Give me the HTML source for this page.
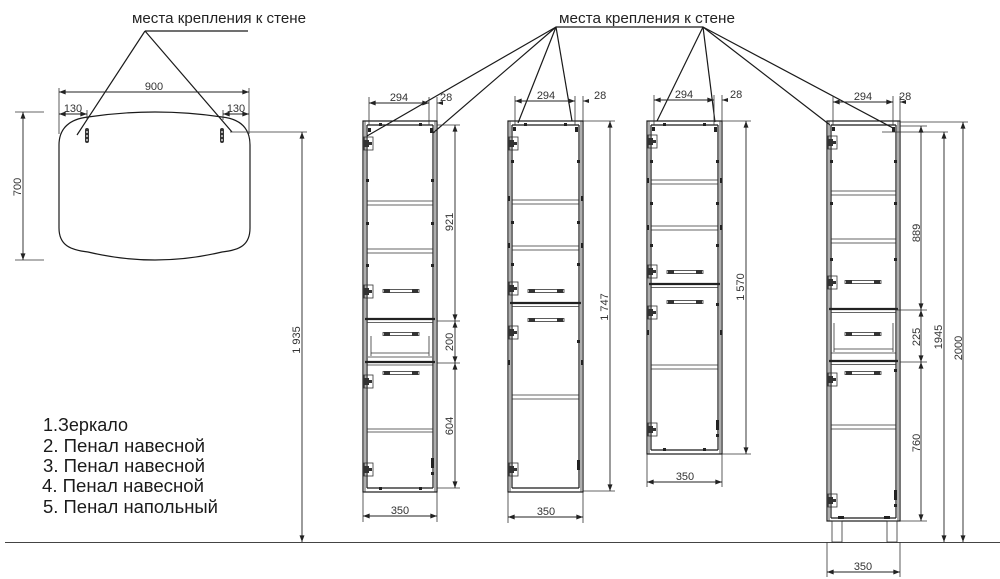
<!DOCTYPE html>
<html><head><meta charset="utf-8"><style>
html,body{margin:0;padding:0;background:#fff;}
svg{display:block;}
text{font-family:"Liberation Sans",Arial,sans-serif;fill:#222;}
.d{font-size:11px;fill:#333;}
.lg{font-size:18px;fill:#1a1a1a;}
.l{stroke:#1a1a1a;stroke-width:1.2;fill:none;}
.t{stroke:#333;stroke-width:0.8;fill:none;}
.k{stroke:#222;stroke-width:2.2;fill:none;}
.dm{stroke:#222;stroke-width:0.9;fill:none;marker-start:url(#a);marker-end:url(#a);}
.p{fill:#222;}
</style></head><body>
<svg width="1000" height="579" viewBox="0 0 1000 579" xmlns="http://www.w3.org/2000/svg">
<defs>
<marker id="a" viewBox="0 0 8 6" refX="8" refY="3" markerWidth="7" markerHeight="5" markerUnits="userSpaceOnUse" orient="auto-start-reverse"><path d="M0,0 L8,3 L0,6 z" fill="#222"/></marker>
<g id="hl"><rect x="0" y="-1.5" width="36" height="3" fill="none" stroke="#333" stroke-width="0.8"/><rect x="1" y="-2" width="6" height="4" fill="#333"/><rect x="29" y="-2" width="6" height="4" fill="#333"/></g>
<g id="hg"><rect x="0" y="0" width="9" height="13" fill="none" stroke="#333" stroke-width="0.8"/><rect x="0" y="3" width="5" height="7" fill="#333"/><rect x="5" y="5" width="3" height="3" fill="#333"/></g>
</defs>

<!-- ground -->
<line x1="5" y1="542.5" x2="1000" y2="542.5" stroke="#444" stroke-width="1"/>

<!-- ============ MIRROR ============ -->
<text x="132" y="23" style="font-size:15px" textLength="174" lengthAdjust="spacingAndGlyphs">места крепления к стене</text>
<line class="l" x1="145" y1="31" x2="248" y2="31"/>
<line class="l" x1="145" y1="31" x2="77" y2="135"/>
<line class="l" x1="145" y1="31" x2="232" y2="132"/>
<path class="l" d="M 88,117 Q 155,107 222,117 C 240,119 250,128 250,145 L 250,228 C 250,245 240,250 222,252 Q 155,268 88,252 C 70,250 59,245 59,228 L 59,145 C 59,128 70,119 88,117 Z"/>
<rect x="85" y="128" width="4" height="15" rx="2" fill="#333"/>
<rect x="220" y="128" width="4" height="15" rx="2" fill="#333"/>
<circle cx="87" cy="132" r="0.9" fill="#fff"/><circle cx="87" cy="136" r="0.9" fill="#fff"/><circle cx="87" cy="140" r="0.9" fill="#fff"/>
<circle cx="222" cy="132" r="0.9" fill="#fff"/><circle cx="222" cy="136" r="0.9" fill="#fff"/><circle cx="222" cy="140" r="0.9" fill="#fff"/>
<!-- 900 -->
<line class="t" x1="59" y1="88" x2="59" y2="134"/>
<line class="t" x1="249" y1="88" x2="249" y2="134"/>
<line class="dm" x1="59" y1="92" x2="249" y2="92"/>
<text class="d" x="154" y="90" text-anchor="middle">900</text>
<line class="t" x1="87" y1="110" x2="87" y2="120"/>
<line class="t" x1="223" y1="110" x2="223" y2="120"/>
<line class="dm" x1="59" y1="114" x2="87" y2="114"/>
<text class="d" x="73" y="112" text-anchor="middle">130</text>
<line class="dm" x1="223" y1="114" x2="249" y2="114"/>
<text class="d" x="236" y="112" text-anchor="middle">130</text>
<!-- 700 -->
<line class="t" x1="15" y1="112" x2="44" y2="112"/>
<line class="t" x1="15" y1="260" x2="44" y2="260"/>
<line class="dm" x1="23" y1="112" x2="23" y2="260"/>
<text class="d" transform="translate(21,187) rotate(-90)" text-anchor="middle">700</text>
<!-- 1935 -->
<line class="t" x1="230" y1="132" x2="307" y2="132"/>
<line class="dm" x1="302" y1="132" x2="302" y2="542"/>
<text class="d" transform="translate(300,340) rotate(-90)" text-anchor="middle">1 935</text>

<!-- legend -->
<text class="lg" x="43" y="431" textLength="85" lengthAdjust="spacingAndGlyphs">1.Зеркало</text>
<text class="lg" x="43" y="452" textLength="162" lengthAdjust="spacingAndGlyphs">2. Пенал навесной</text>
<text class="lg" x="43" y="472" textLength="162" lengthAdjust="spacingAndGlyphs">3. Пенал навесной</text>
<text class="lg" x="42" y="492" textLength="162" lengthAdjust="spacingAndGlyphs">4. Пенал навесной</text>
<text class="lg" x="43" y="513" textLength="175" lengthAdjust="spacingAndGlyphs">5. Пенал напольный</text>

<!-- ============ top-right label & leaders ============ -->
<text x="559" y="23" style="font-size:15px" textLength="176" lengthAdjust="spacingAndGlyphs">места крепления к стене</text>
<line class="l" x1="556" y1="27" x2="703" y2="27"/>
<line class="l" x1="556" y1="27" x2="367" y2="136"/>
<line class="l" x1="556" y1="27" x2="433" y2="133"/>
<line class="l" x1="556" y1="27" x2="518" y2="123"/>
<line class="l" x1="556" y1="27" x2="572" y2="121"/>
<line class="l" x1="703" y1="27" x2="657" y2="121"/>
<line class="l" x1="703" y1="27" x2="715" y2="122"/>
<line class="l" x1="703" y1="27" x2="830" y2="125"/>
<line class="l" x1="703" y1="27" x2="893" y2="128"/>

<!-- ============ CABINET 1 ============ -->
<g>
<rect class="l" x="363" y="121" width="74" height="371"/>
<line class="t" x1="365" y1="121" x2="365" y2="492"/>
<line class="t" x1="435" y1="121" x2="435" y2="492"/>
<line class="l" x1="367" y1="125" x2="367" y2="488"/>
<line class="l" x1="433" y1="125" x2="433" y2="488"/>
<line class="l" x1="367" y1="125" x2="433" y2="125"/>
<line class="l" x1="367" y1="488" x2="433" y2="488"/>
<rect class="p" x="379" y="123" width="3" height="3"/><rect class="p" x="419" y="123" width="3" height="3"/>
<rect class="p" x="379" y="487" width="3" height="3"/><rect class="p" x="419" y="487" width="3" height="3"/>
<line class="t" x1="367" y1="201" x2="433" y2="201"/><line class="t" x1="367" y1="205" x2="433" y2="205"/>
<line class="t" x1="367" y1="249" x2="433" y2="249"/><line class="t" x1="367" y1="253" x2="433" y2="253"/>
<line class="k" x1="365" y1="319" x2="435" y2="319"/><line class="t" x1="367" y1="322.5" x2="433" y2="322.5"/>
<line class="t" x1="371" y1="336" x2="371" y2="356"/><line class="t" x1="429" y1="336" x2="429" y2="356"/>
<line class="t" x1="371" y1="353" x2="429" y2="353"/><line class="t" x1="368" y1="357" x2="432" y2="357"/>
<line class="k" x1="365" y1="362" x2="435" y2="362"/><line class="t" x1="367" y1="365" x2="433" y2="365"/>
<line class="t" x1="367" y1="429" x2="433" y2="429"/><line class="t" x1="367" y1="432" x2="433" y2="432"/>
<rect class="p" x="366" y="179" width="3" height="3"/><rect class="p" x="431" y="179" width="3" height="3"/>
<rect class="p" x="366" y="222" width="3" height="3"/><rect class="p" x="431" y="222" width="3" height="3"/>
<rect class="p" x="366" y="264" width="3" height="3"/><rect class="p" x="431" y="264" width="3" height="3"/>
<rect class="p" x="431" y="458" width="3" height="10"/><rect class="p" x="431" y="472" width="3" height="3"/>
<use href="#hg" x="364" y="137"/><use href="#hg" x="364" y="285"/><use href="#hg" x="364" y="375"/><use href="#hg" x="364" y="463"/>
<use href="#hl" x="383" y="291"/><use href="#hl" x="383" y="334"/><use href="#hl" x="383" y="373"/>
<rect class="p" x="368" y="128" width="3" height="4"/><rect class="p" x="430" y="128" width="3" height="5"/>
<!-- dims -->
<line class="t" x1="369" y1="97" x2="369" y2="125"/>
<line class="t" x1="429" y1="97" x2="429" y2="125"/>
<line class="t" x1="437" y1="97" x2="437" y2="121"/>
<line class="dm" x1="369" y1="103" x2="429" y2="103"/>
<line class="t" x1="437" y1="103" x2="443" y2="103"/>
<path d="M437,103 L443,101 L443,105 z" fill="#222"/>
<text class="d" x="399" y="101" text-anchor="middle">294</text>
<text class="d" x="440" y="101">28</text>
<line class="t" x1="437" y1="125" x2="460" y2="125"/>
<line class="t" x1="437" y1="321" x2="460" y2="321"/>
<line class="t" x1="437" y1="363" x2="460" y2="363"/>
<line class="t" x1="437" y1="488" x2="460" y2="488"/>
<line class="dm" x1="455" y1="125" x2="455" y2="321"/>
<line class="dm" x1="455" y1="321" x2="455" y2="363"/>
<line class="dm" x1="455" y1="363" x2="455" y2="488"/>
<text class="d" transform="translate(453,222) rotate(-90)" text-anchor="middle">921</text>
<text class="d" transform="translate(453,342) rotate(-90)" text-anchor="middle">200</text>
<text class="d" transform="translate(453,426) rotate(-90)" text-anchor="middle">604</text>
<line class="t" x1="363" y1="492" x2="363" y2="522"/>
<line class="t" x1="437" y1="492" x2="437" y2="522"/>
<line class="dm" x1="363" y1="516" x2="437" y2="516"/>
<text class="d" x="400" y="514" text-anchor="middle">350</text>
</g>

<!-- ============ CABINET 2 ============ -->
<g>
<rect class="l" x="508" y="121" width="75" height="371"/>
<line class="t" x1="510" y1="121" x2="510" y2="492"/>
<line class="t" x1="581" y1="121" x2="581" y2="492"/>
<line class="l" x1="512" y1="125" x2="512" y2="488"/>
<line class="l" x1="579" y1="125" x2="579" y2="488"/>
<line class="l" x1="512" y1="125" x2="579" y2="125"/>
<line class="l" x1="512" y1="488" x2="579" y2="488"/>
<rect class="p" x="524" y="123" width="3" height="3"/><rect class="p" x="564" y="123" width="3" height="3"/>
<line class="t" x1="512" y1="200" x2="579" y2="200"/><line class="t" x1="512" y1="204" x2="579" y2="204"/>
<line class="t" x1="512" y1="246" x2="579" y2="246"/><line class="t" x1="512" y1="250" x2="579" y2="250"/>
<line class="k" x1="510" y1="303" x2="581" y2="303"/><line class="t" x1="512" y1="306.5" x2="579" y2="306.5"/>
<line class="t" x1="512" y1="395" x2="579" y2="395"/><line class="t" x1="512" y1="399" x2="579" y2="399"/>
<rect class="p" x="511" y="160" width="3" height="3"/><rect class="p" x="577" y="160" width="3" height="3"/>
<rect class="p" x="511" y="221" width="3" height="3"/><rect class="p" x="577" y="221" width="3" height="3"/>
<rect class="p" x="511" y="263" width="3" height="3"/><rect class="p" x="577" y="263" width="3" height="3"/>
<rect class="p" x="577" y="340" width="3" height="3"/>
<rect class="p" x="577" y="460" width="3" height="10"/>
<rect class="p" x="508" y="196" width="2" height="5"/><rect class="p" x="508" y="243" width="2" height="5"/><rect class="p" x="581" y="196" width="2" height="5"/><rect class="p" x="581" y="243" width="2" height="5"/>
<rect class="p" x="508" y="360" width="2" height="5"/><rect class="p" x="581" y="360" width="2" height="5"/>
<use href="#hg" x="509" y="137"/><use href="#hg" x="509" y="282"/><use href="#hg" x="509" y="326"/><use href="#hg" x="509" y="463"/>
<use href="#hl" x="528" y="291"/><use href="#hl" x="528" y="320"/>
<rect class="p" x="513" y="127" width="3" height="4"/><rect class="p" x="575" y="127" width="3" height="5"/>
<line class="t" x1="515" y1="96" x2="515" y2="125"/>
<line class="t" x1="575" y1="96" x2="575" y2="125"/>
<line class="t" x1="583" y1="96" x2="583" y2="121"/>
<line class="dm" x1="515" y1="101" x2="575" y2="101"/>
<line class="t" x1="583" y1="101" x2="589" y2="101"/>
<path d="M583,101 L589,99 L589,103 z" fill="#222"/>
<text class="d" x="546" y="99" text-anchor="middle">294</text>
<text class="d" x="594" y="99">28</text>
<line class="t" x1="583" y1="121" x2="615" y2="121"/>
<line class="t" x1="583" y1="491" x2="615" y2="491"/>
<line class="dm" x1="610" y1="121" x2="610" y2="491"/>
<text class="d" transform="translate(608,307) rotate(-90)" text-anchor="middle">1 747</text>
<line class="t" x1="508" y1="492" x2="508" y2="523"/>
<line class="t" x1="583" y1="492" x2="583" y2="523"/>
<line class="dm" x1="508" y1="517" x2="583" y2="517"/>
<text class="d" x="546" y="515" text-anchor="middle">350</text>
</g>

<!-- ============ CABINET 3 ============ -->
<g>
<rect class="l" x="647" y="121" width="75" height="333"/>
<line class="t" x1="649" y1="121" x2="649" y2="454"/>
<line class="t" x1="720" y1="121" x2="720" y2="454"/>
<line class="l" x1="651" y1="125" x2="651" y2="450"/>
<line class="l" x1="718" y1="125" x2="718" y2="450"/>
<line class="l" x1="651" y1="125" x2="718" y2="125"/>
<line class="l" x1="651" y1="450" x2="718" y2="450"/>
<rect class="p" x="663" y="123" width="3" height="3"/><rect class="p" x="703" y="123" width="3" height="3"/>
<rect class="p" x="663" y="448" width="3" height="3"/><rect class="p" x="703" y="448" width="3" height="3"/>
<line class="t" x1="651" y1="180" x2="718" y2="180"/><line class="t" x1="651" y1="184" x2="718" y2="184"/>
<line class="t" x1="651" y1="226" x2="718" y2="226"/><line class="t" x1="651" y1="230" x2="718" y2="230"/>
<line class="k" x1="649" y1="284" x2="720" y2="284"/><line class="t" x1="651" y1="287.5" x2="718" y2="287.5"/>
<line class="t" x1="651" y1="365" x2="718" y2="365"/><line class="t" x1="651" y1="369" x2="718" y2="369"/>
<rect class="p" x="650" y="160" width="3" height="3"/><rect class="p" x="716" y="160" width="3" height="3"/>
<rect class="p" x="650" y="202" width="3" height="3"/><rect class="p" x="716" y="202" width="3" height="3"/>
<rect class="p" x="650" y="244" width="3" height="3"/><rect class="p" x="716" y="244" width="3" height="3"/>
<rect class="p" x="716" y="303" width="3" height="3"/>
<rect class="p" x="716" y="420" width="3" height="10"/><rect class="p" x="716" y="434" width="3" height="3"/>
<rect class="p" x="647" y="178" width="2" height="5"/><rect class="p" x="647" y="225" width="2" height="5"/><rect class="p" x="720" y="178" width="2" height="5"/><rect class="p" x="720" y="225" width="2" height="5"/>
<rect class="p" x="647" y="330" width="2" height="5"/><rect class="p" x="720" y="330" width="2" height="5"/>
<use href="#hg" x="648" y="135"/><use href="#hg" x="648" y="265"/><use href="#hg" x="648" y="306"/><use href="#hg" x="648" y="423"/>
<use href="#hl" x="667" y="272"/><use href="#hl" x="667" y="302"/>
<rect class="p" x="652" y="127" width="3" height="4"/><rect class="p" x="714" y="127" width="3" height="5"/>
<line class="t" x1="654" y1="95" x2="654" y2="125"/>
<line class="t" x1="714" y1="95" x2="714" y2="125"/>
<line class="t" x1="722" y1="95" x2="722" y2="121"/>
<line class="dm" x1="654" y1="100" x2="714" y2="100"/>
<line class="t" x1="722" y1="100" x2="728" y2="100"/>
<path d="M722,100 L728,98 L728,102 z" fill="#222"/>
<text class="d" x="684" y="98" text-anchor="middle">294</text>
<text class="d" x="730" y="98">28</text>
<line class="t" x1="722" y1="121" x2="751" y2="121"/>
<line class="t" x1="722" y1="454" x2="751" y2="454"/>
<line class="dm" x1="746" y1="121" x2="746" y2="454"/>
<text class="d" transform="translate(744,287) rotate(-90)" text-anchor="middle">1 570</text>
<line class="t" x1="647" y1="454" x2="647" y2="487"/>
<line class="t" x1="722" y1="454" x2="722" y2="487"/>
<line class="dm" x1="647" y1="482" x2="722" y2="482"/>
<text class="d" x="685" y="480" text-anchor="middle">350</text>
</g>

<!-- ============ CABINET 4 ============ -->
<g>
<rect class="l" x="827" y="121" width="73" height="400"/>
<line class="t" x1="829" y1="121" x2="829" y2="521"/>
<line class="t" x1="898" y1="121" x2="898" y2="521"/>
<line class="l" x1="831" y1="125" x2="831" y2="518"/>
<line class="l" x1="896" y1="125" x2="896" y2="518"/>
<line class="l" x1="831" y1="125" x2="896" y2="125"/>
<line class="l" x1="831" y1="518" x2="896" y2="518"/>
<line class="t" x1="831" y1="191" x2="896" y2="191"/><line class="t" x1="831" y1="195" x2="896" y2="195"/>
<line class="t" x1="831" y1="239" x2="896" y2="239"/><line class="t" x1="831" y1="243" x2="896" y2="243"/>
<line class="k" x1="829" y1="309" x2="898" y2="309"/><line class="t" x1="831" y1="312.5" x2="896" y2="312.5"/>
<line class="t" x1="834" y1="323" x2="834" y2="352"/><line class="t" x1="893" y1="323" x2="893" y2="352"/>
<line class="t" x1="834" y1="349" x2="893" y2="349"/><line class="t" x1="831" y1="353" x2="896" y2="353"/>
<line class="k" x1="829" y1="361" x2="898" y2="361"/><line class="t" x1="831" y1="364.5" x2="896" y2="364.5"/>
<line class="t" x1="831" y1="425" x2="896" y2="425"/><line class="t" x1="831" y1="429" x2="896" y2="429"/>
<rect class="p" x="830" y="160" width="3" height="3"/><rect class="p" x="894" y="160" width="3" height="3"/>
<rect class="p" x="830" y="202" width="3" height="3"/><rect class="p" x="894" y="202" width="3" height="3"/>
<rect class="p" x="830" y="258" width="3" height="3"/><rect class="p" x="894" y="258" width="3" height="3"/>
<rect class="p" x="894" y="369" width="3" height="3"/>
<rect class="p" x="894" y="490" width="3" height="10"/><rect class="p" x="894" y="504" width="3" height="3"/>
<rect class="p" x="838" y="516" width="6" height="3"/><rect class="p" x="884" y="516" width="6" height="3"/>
<use href="#hg" x="828" y="136"/><use href="#hg" x="828" y="276"/><use href="#hg" x="828" y="373"/><use href="#hg" x="828" y="494"/>
<use href="#hl" x="845" y="282"/><use href="#hl" x="845" y="334"/><use href="#hl" x="845" y="373"/>
<rect class="p" x="832" y="127" width="3" height="4"/><rect class="p" x="892" y="127" width="3" height="5"/>
<!-- legs -->
<rect class="t" x="832" y="521" width="10" height="21"/>
<rect class="t" x="887" y="521" width="10" height="21"/>
<!-- dims -->
<line class="t" x1="833" y1="96" x2="833" y2="125"/>
<line class="t" x1="893" y1="96" x2="893" y2="125"/>
<line class="t" x1="900" y1="96" x2="900" y2="121"/>
<line class="dm" x1="833" y1="102" x2="893" y2="102"/>
<line class="t" x1="900" y1="102" x2="906" y2="102"/>
<path d="M900,102 L906,100 L906,104 z" fill="#222"/>
<text class="d" x="863" y="100" text-anchor="middle">294</text>
<text class="d" x="899" y="100">28</text>
<line class="t" x1="900" y1="122" x2="968" y2="122"/>
<line class="t" x1="900" y1="126" x2="927" y2="126"/>
<line class="t" x1="882" y1="132" x2="948" y2="132"/>
<line class="t" x1="896" y1="310" x2="927" y2="310"/>
<line class="t" x1="900" y1="362" x2="927" y2="362"/>
<line class="t" x1="900" y1="521" x2="927" y2="521"/>
<line class="dm" x1="921" y1="126" x2="921" y2="310"/>
<line class="dm" x1="921" y1="310" x2="921" y2="362"/>
<line class="dm" x1="921" y1="362" x2="921" y2="521"/>
<line class="dm" x1="944" y1="132" x2="944" y2="542"/>
<line class="dm" x1="963" y1="122" x2="963" y2="542"/>
<text class="d" transform="translate(920,233) rotate(-90)" text-anchor="middle">889</text>
<text class="d" transform="translate(920,337) rotate(-90)" text-anchor="middle">225</text>
<text class="d" transform="translate(920,443) rotate(-90)" text-anchor="middle">760</text>
<text class="d" transform="translate(942,337) rotate(-90)" text-anchor="middle">1945</text>
<text class="d" transform="translate(962,348) rotate(-90)" text-anchor="middle">2000</text>
<line class="t" x1="827" y1="542" x2="827" y2="577"/>
<line class="t" x1="900" y1="542" x2="900" y2="577"/>
<line class="dm" x1="827" y1="572" x2="900" y2="572"/>
<text class="d" x="863" y="570" text-anchor="middle">350</text>
</g>
</svg>
</body></html>
